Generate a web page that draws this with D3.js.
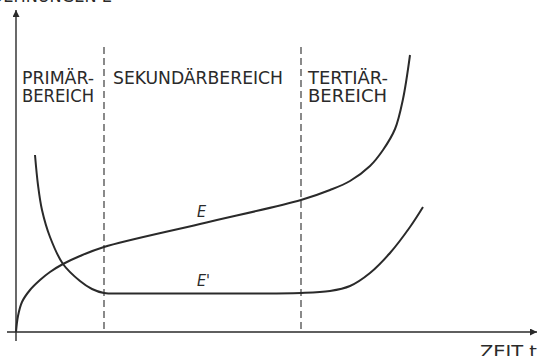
<!DOCTYPE html>
<html>
<head>
<meta charset="utf-8">
<script src="https://cdn.jsdelivr.net/npm/d3@7"></script>
<style>
  html, body { margin: 0; padding: 0; background: #fff; }
  svg { display: block; }
  text { font-family: "DejaVu Sans Condensed", "Liberation Sans Narrow", "Liberation Sans", sans-serif; fill: #2a2a2a; }
</style>
</head>
<body>
<div id="chart"></div>
<script>
// Kriechkurve: Dehnung E und Dehngeschwindigkeit E' ueber der Zeit t
const tE     = [0, 2, 6, 14, 24, 34, 47, 64, 88, 184, 285, 314, 334, 354, 367, 379, 387, 394];
const valE   = [0, 16, 30, 42, 52, 60, 68, 76, 85, 108, 132, 142, 151, 166, 182, 203, 233, 277];
const tE1    = [19, 22, 26, 34, 47, 64, 76, 88, 110, 200, 285, 314, 334, 354, 374, 394, 407];
const valE1  = [177, 147, 122, 95, 68, 51, 43, 39, 38.5, 38.5, 39, 41, 46, 59, 79, 105, 125];
const bounds = [88, 285]; // Grenzen primaer/sekundaer/tertiaer
const regions = [
  { t: 6,   lines: ['PRIMÄR-', 'BEREICH'],  w: [72, 72] },
  { t: 97,  lines: ['SEKUNDÄRBEREICH'],     w: [170] },
  { t: 292, lines: ['TERTIÄR-', 'BEREICH'], w: [80, 79] },
];
const curveLabels = [
  { t: 181, v: 115, text: 'E' },
  { t: 181, v: 46,  text: "E'" },
];

const W = 539, H = 356;
const x = d3.scaleLinear().domain([0, 520]).range([16, 536]);
const y = d3.scaleLinear().domain([0, 320]).range([332, 12]);
const ink = '#2a2a2a';

const svg = d3.select('#chart').append('svg').attr('width', W).attr('height', H);

const defs = svg.append('defs');
defs.append('marker').attr('id', 'arrow')
  .attr('viewBox', '0 0 10 10').attr('refX', 10).attr('refY', 5)
  .attr('markerWidth', 10).attr('markerHeight', 7).attr('markerUnits', 'userSpaceOnUse')
  .attr('orient', 'auto')
  .append('path').attr('d', 'M0,0 L10,5 L0,10 Z').attr('fill', ink);

// Achsen
svg.append('line')
  .attr('x1', x(-9)).attr('y1', y(0)).attr('x2', x(521)).attr('y2', y(0))
  .attr('stroke', ink).attr('stroke-width', 1.4).attr('marker-end', 'url(#arrow)');
svg.append('line')
  .attr('x1', x(0)).attr('y1', y(-9)).attr('x2', x(0)).attr('y2', y(322))
  .attr('stroke', ink).attr('stroke-width', 1.4).attr('marker-end', 'url(#arrow)');

// Bereichsgrenzen (gestrichelt)
svg.selectAll('line.bound').data(bounds).enter().append('line')
  .attr('class', 'bound')
  .attr('x1', (d) => x(d)).attr('x2', (d) => x(d))
  .attr('y1', y(285)).attr('y2', y(0))
  .attr('stroke', ink).attr('stroke-width', 1.1).attr('stroke-dasharray', '7,4');

// Bereichstexte
regions.forEach((r) => {
  r.lines.forEach((s, i) => {
    svg.append('text')
      .attr('x', x(r.t)).attr('y', 84 + i * 18)
      .attr('font-size', 17)
      .attr('textLength', r.w[i]).attr('lengthAdjust', 'spacingAndGlyphs')
      .text(s);
  });
});

// Kurven
const line = d3.line().x((d) => x(d[0])).y((d) => y(d[1])).curve(d3.curveCatmullRom.alpha(0.5));
svg.append('path').datum(d3.zip(tE, valE))
  .attr('d', line).attr('fill', 'none').attr('stroke', ink).attr('stroke-width', 2);
svg.append('path').datum(d3.zip(tE1, valE1))
  .attr('d', line).attr('fill', 'none').attr('stroke', ink).attr('stroke-width', 2);

svg.selectAll('text.clabel').data(curveLabels).enter().append('text')
  .attr('class', 'clabel')
  .attr('x', (d) => x(d.t)).attr('y', (d) => y(d.v))
  .attr('font-size', 16).attr('font-style', 'italic')
  .text((d) => d.text);

// Achsentitel (am Bildrand angeschnitten)
svg.append('text')
  .attr('x', 112).attr('y', 2).attr('text-anchor', 'end')
  .attr('font-size', 18)
  .text('DEHNUNGEN  E');
svg.append('text')
  .attr('x', 480).attr('y', 358)
  .attr('font-size', 18)
  .attr('textLength', 57).attr('lengthAdjust', 'spacingAndGlyphs')
  .text('ZEIT   t');
</script>
</body>
</html>
